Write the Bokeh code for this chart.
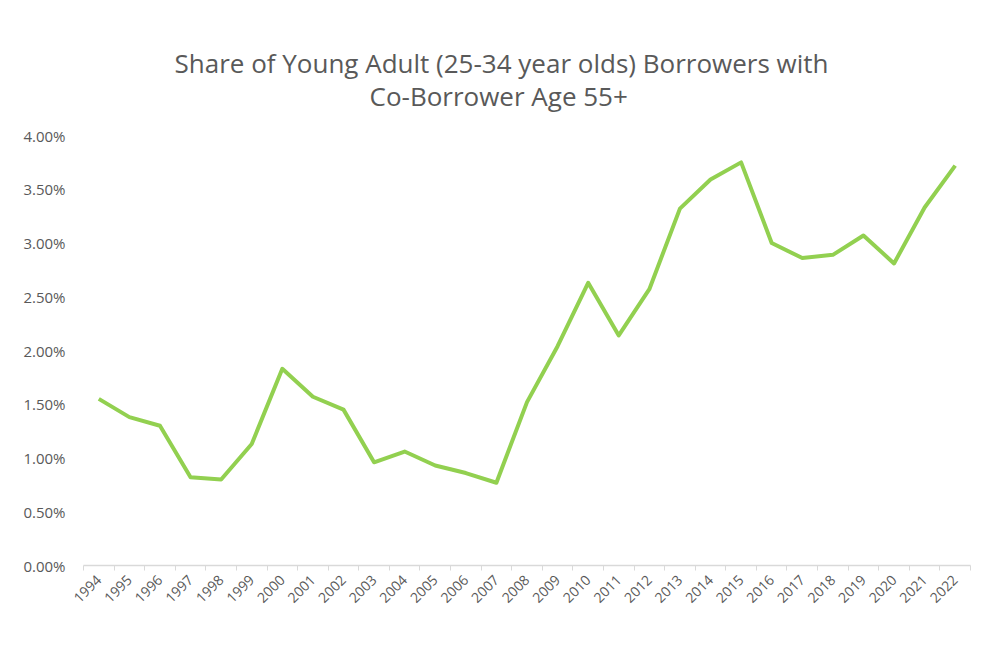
import math
from bokeh.plotting import figure
from bokeh.models import Range1d, FixedTicker, PrintfTickFormatter, Title
from bokeh.embed import file_html
from bokeh.resources import INLINE

years = list(range(1994, 2023))
share_pct = [1.55, 1.38, 1.30, 0.82, 0.80, 1.13, 1.83, 1.57, 1.45, 0.96,
             1.06, 0.93, 0.86, 0.77, 1.52, 2.04, 2.63, 2.14, 2.57, 3.32,
             3.59, 3.75, 3.00, 2.86, 2.89, 3.07, 2.81, 3.33, 3.72]
y_ticks = [0.0, 0.5, 1.0, 1.5, 2.0, 2.5, 3.0, 3.5, 4.0]
title_lines = ["Share of Young Adult (25-34 year olds) Borrowers with", "Co-Borrower Age 55+"]

FONT = "Open Sans"
GREY = "#595959"

p = figure(width=984, height=646, output_backend="svg", toolbar_location=None,
           x_range=Range1d(years[0] - 0.5, years[-1] + 0.5),
           y_range=Range1d(0, 4),
           min_border_left=83, min_border_right=14, min_border_top=135, min_border_bottom=81)
p.title.visible = False
# spacer between title block and plot frame
p.add_layout(Title(text=" ", align="center", text_font_size="1px", standoff=19), "above")
# lines centred on the page (not the frame): left-aligned with an offset
p.add_layout(Title(text=title_lines[1], align="left", offset=286, text_font=FONT,
                   text_font_size="26px", text_font_style="normal", text_color=GREY,
                   text_line_height=1.0, standoff=0), "above")
p.add_layout(Title(text=title_lines[0], align="left", offset=91, text_font=FONT,
                   text_font_size="26px", text_font_style="normal", text_color=GREY,
                   text_line_height=1.0, standoff=-10), "above")
p.outline_line_color = None
p.grid.grid_line_color = None

p.line(years, share_pct, line_color="#92d050", line_width=4, line_join="round")

xa = p.xaxis[0]
xa.ticker = FixedTicker(ticks=years, minor_ticks=[y - 0.5 for y in years] + [years[-1] + 0.5])
xa.formatter = PrintfTickFormatter(format="%d")
xa.major_label_orientation = math.pi / 4
xa.major_tick_line_color = None
xa.minor_tick_line_color = "#d9d9d9"
xa.minor_tick_out = 5
xa.minor_tick_in = 0
xa.axis_line_color = "#d9d9d9"
xa.axis_line_width = 1.5
xa.major_label_text_font = FONT
xa.major_label_text_font_size = "14px"
xa.major_label_text_color = GREY
xa.major_label_standoff = 6

ya = p.yaxis[0]
ya.ticker = FixedTicker(ticks=y_ticks)
ya.formatter = PrintfTickFormatter(format="%.2f%%")
ya.axis_line_color = None
ya.major_tick_line_color = None
ya.minor_tick_line_color = None
ya.major_label_text_font = FONT
ya.major_label_text_font_size = "15px"
ya.major_label_text_color = GREY
ya.major_label_standoff = 12

open("out.html", "w").write(file_html(p, INLINE))
